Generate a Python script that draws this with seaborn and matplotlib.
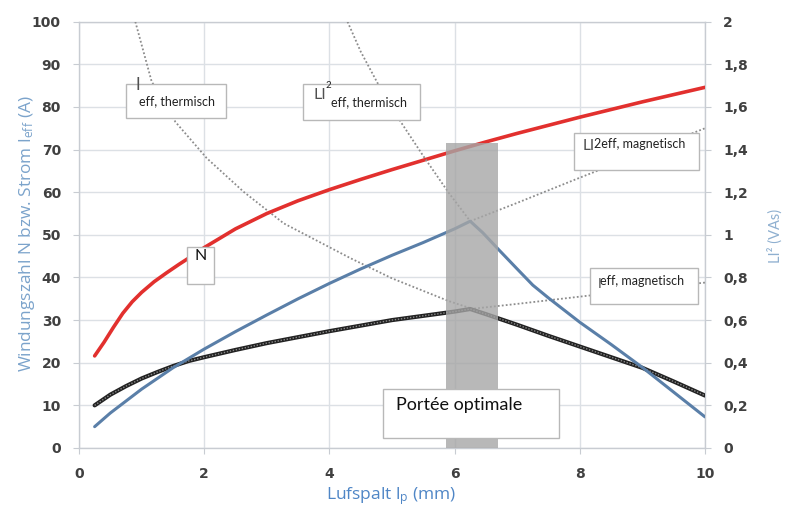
#%%
# Bibliotheken
import matplotlib
matplotlib.use('Agg')
import matplotlib.pyplot as plt
from matplotlib.patches import Rectangle
import seaborn as sns

#%%
# Daten
x_n = [0.25, 0.4, 0.55, 0.7, 0.85, 1.0, 1.2, 1.4, 1.6, 1.8, 2.0, 2.5, 3.0, 3.5, 4.0, 4.5, 5.0,
       5.5, 6.0, 6.5, 7.0, 7.5, 8.0, 8.5, 9.0, 9.5, 10.0]
windungszahl = [21.6, 24.8, 28.3, 31.6, 34.3, 36.5, 39.0, 41.1, 43.1, 45.0, 47.0, 51.4, 55.0, 58.0,
                60.6, 63.0, 65.3, 67.5, 69.7, 71.8, 73.8, 75.7, 77.6, 79.4, 81.2, 82.9, 84.6]

x_li2 = [0.25, 0.5, 1.0, 1.5, 2.0, 2.5, 3.0, 3.5, 4.0, 4.5, 5.0, 5.5, 6.0, 6.25,
         6.45, 6.7, 7.0, 7.25, 7.5, 8.0, 8.5, 9.0, 9.5, 10.0]
li2 = [0.100, 0.164, 0.276, 0.376, 0.464, 0.546, 0.624, 0.700, 0.772, 0.840, 0.904, 0.964, 1.028, 1.064,
       1.010, 0.932, 0.840, 0.764, 0.704, 0.590, 0.486, 0.378, 0.262, 0.146]

x_ieff = [0.25, 0.5, 0.75, 1.0, 1.25, 1.5, 1.75, 2.0, 2.5, 3.0, 3.5, 4.0, 4.5, 5.0, 5.5, 6.0, 6.25,
          6.5, 7.0, 7.5, 8.0, 8.5, 9.0, 9.5, 10.0]
ieff = [10, 12.5, 14.5, 16.3, 17.8, 19.2, 20.4, 21.3, 23, 24.6, 26, 27.4, 28.7, 30, 31, 32, 32.6,
        31.4, 28.9, 26.3, 23.8, 21.3, 18.8, 15.6, 12.3]

# gepunktete Grenzkurven
x_ieff_th = [0.9, 1.16, 1.54, 2.04, 2.63, 3.27, 4.34, 5.0, 5.9, 6.25]
ieff_th = [100, 86, 76.5, 68, 60.1, 52.7, 44.5, 39.8, 34.5, 32.8]
x_ieff_mag = [6.25, 7.0, 8.0, 9.0, 10.0]
ieff_mag = [32.6, 33.8, 35.5, 37.2, 38.8]
x_li2_th = [4.29, 4.5, 4.77, 5.14, 5.5, 5.9, 6.25]
li2_th = [2.0, 1.86, 1.712, 1.53, 1.37, 1.2, 1.064]
x_li2_mag = [6.25, 7.0, 8.0, 9.0, 10.0]
li2_mag = [1.064, 1.15, 1.268, 1.384, 1.5]

# optimaler Bereich
opt_x = [5.87, 6.70]
opt_top = 71.5

x_ticks = [0, 2, 4, 6, 8, 10]
y_ticks = list(range(0, 101, 10))
y2_ticks = [0, 0.2, 0.4, 0.6, 0.8, 1.0, 1.2, 1.4, 1.6, 1.8, 2.0]
y2_labels = ['0', '0,2', '0,4', '0,6', '0,8', '1', '1,2', '1,4', '1,6', '1,8', '2']

#%%
# Stil
sns.set_style('white')
plt.rcParams['font.family'] = ['Lato', 'DejaVu Sans']
plt.rcParams['mathtext.default'] = 'regular'

tick_color = '#404040'
grid_color = '#dce0e5'
dot_color = '#8c8c8c'
tick_font = dict(fontfamily='DejaVu Sans', fontweight='bold', fontsize=10, color=tick_color)

fig = plt.figure(figsize=(7.86, 5.07), dpi=100)
ax = fig.add_axes([0.1005, 0.1164, 0.7964, 0.8408])
ax2 = ax.twinx()

#%%
# Linien
sns.lineplot(x=x_n, y=windungszahl, ax=ax, color='#e2302e', linewidth=2.6, zorder=4)
sns.lineplot(x=x_ieff, y=ieff, ax=ax, color='#222222', linewidth=3.0, zorder=4)
sns.lineplot(x=x_ieff, y=ieff, ax=ax, color='#8a8a8a', linewidth=1.0, linestyle=(0, (1, 1.2)), zorder=5)
sns.lineplot(x=x_ieff_th, y=ieff_th, ax=ax, color=dot_color, linewidth=1.3, linestyle=(0, (1, 1.2)), zorder=3)
sns.lineplot(x=x_ieff_mag, y=ieff_mag, ax=ax, color=dot_color, linewidth=1.3, linestyle=(0, (1, 1.2)), zorder=3)

sns.lineplot(x=x_li2, y=li2, ax=ax2, color='#5a7fa8', linewidth=2.2, zorder=4)
sns.lineplot(x=x_li2_th, y=li2_th, ax=ax2, color=dot_color, linewidth=1.3, linestyle=(0, (1, 1.2)), zorder=3)
sns.lineplot(x=x_li2_mag, y=li2_mag, ax=ax2, color=dot_color, linewidth=1.3, linestyle=(0, (1, 1.2)), zorder=3)

# grauer Bereich (auf Skala der rechten Achse umgerechnet)
ax2.add_patch(Rectangle((opt_x[0], 0), opt_x[1] - opt_x[0], opt_top / 50,
                        facecolor='#a6a6a6', edgecolor='none', alpha=0.8, zorder=6))

#%%
# Achsen
for a in (ax, ax2):
    a.set_xlim(0, 10)
    a.set_xlabel('')
    a.set_ylabel('')
ax.set_ylim(0, 100)
ax2.set_ylim(0, 2)

ax.set_xticks(x_ticks, labels=[str(v) for v in x_ticks], **tick_font)
ax.set_yticks(y_ticks, labels=[str(v) for v in y_ticks], **tick_font)
ax2.set_yticks(y2_ticks, labels=y2_labels, **tick_font)

ax.grid(True, color=grid_color, linewidth=1.0)
ax.set_axisbelow(True)
for s in ax.spines.values():
    s.set_color('#c8ccd2')
    s.set_linewidth(1.0)
for s in ax2.spines.values():
    s.set_visible(False)

ax.tick_params(axis='y', left=True, direction='out', length=4, color='#c8ccd2', pad=9)
ax.tick_params(axis='x', bottom=True, direction='out', length=4, color='#c8ccd2', pad=10)
ax2.tick_params(axis='y', right=True, direction='out', length=4, color='#c8ccd2', pad=9)

fig.text(0.034, 0.538, 'Windungszahl N bzw. Strom I$_{eff}$ (A)', rotation=90, fontfamily='Open Sans',
         ha='center', va='center', fontsize=12.4, color='#7ba3cb')
fig.text(0.497, 0.022, 'Lufspalt l$_{p}$ (mm)', ha='center', va='center', fontfamily='Open Sans',
         fontsize=12.5, color='#4f86c6')
fig.text(0.986, 0.535, 'LI² (VAs)', rotation=90, ha='center', va='center', fontsize=10.5, color='#8fb0d0')

#%%
# Beschriftungskästen (Koordinaten der rechten Achse: y/50)
def box(x0, x1, y0, y1):
    ax2.add_patch(Rectangle((x0, y0 / 50), x1 - x0, (y1 - y0) / 50, facecolor='white',
                            edgecolor='#b8b8b8', linewidth=1.0, zorder=7))

box(0.75, 2.35, 77.4, 85.4)
ax2.text(0.90, 84.0 / 50, 'I', fontsize=12, color='#505050', va='baseline', zorder=8)
ax2.text(0.96, 81.4 / 50, 'eff, thermisch', fontsize=9, color='#222222', va='center', zorder=8)

box(3.58, 5.44, 76.9, 85.4)
ax2.text(3.74, 81.9 / 50, 'LI', fontsize=11.5, color='#505050', va='baseline', zorder=8)
ax2.text(3.94, 85.0 / 50, '2', fontsize=7, color='#222222', va='center', zorder=8)
ax2.text(4.02, 81.2 / 50, 'eff, thermisch', fontsize=9, color='#222222', va='center', zorder=8)

box(7.91, 9.91, 65.3, 73.8)
ax2.text(8.05, 70.9 / 50, 'LI', fontsize=11, color='#505050', va='center', zorder=8)
ax2.text(8.23, 71.2 / 50, '2eff, magnetisch', fontsize=9, color='#222222', va='center', zorder=8)

box(8.16, 9.89, 33.8, 42.2)
ax2.text(8.28, 38.4 / 50, 'I', fontsize=10, color='#505050', va='center', zorder=8)
ax2.text(8.33, 39.2 / 50, 'eff, magnetisch', fontsize=9, color='#222222', va='center', zorder=8)

box(1.72, 2.16, 38.5, 47.1)
ax2.text(1.94, 45.0 / 50, 'N', fontsize=11.5, color='#111111', ha='center', va='center', zorder=8)

box(4.86, 7.67, 2.35, 13.84)
ax2.text(5.07, 10.1 / 50, 'Portée optimale', fontsize=13, color='#111111', va='center', zorder=8)

fig.savefig('out.png', dpi=100, facecolor='white')
